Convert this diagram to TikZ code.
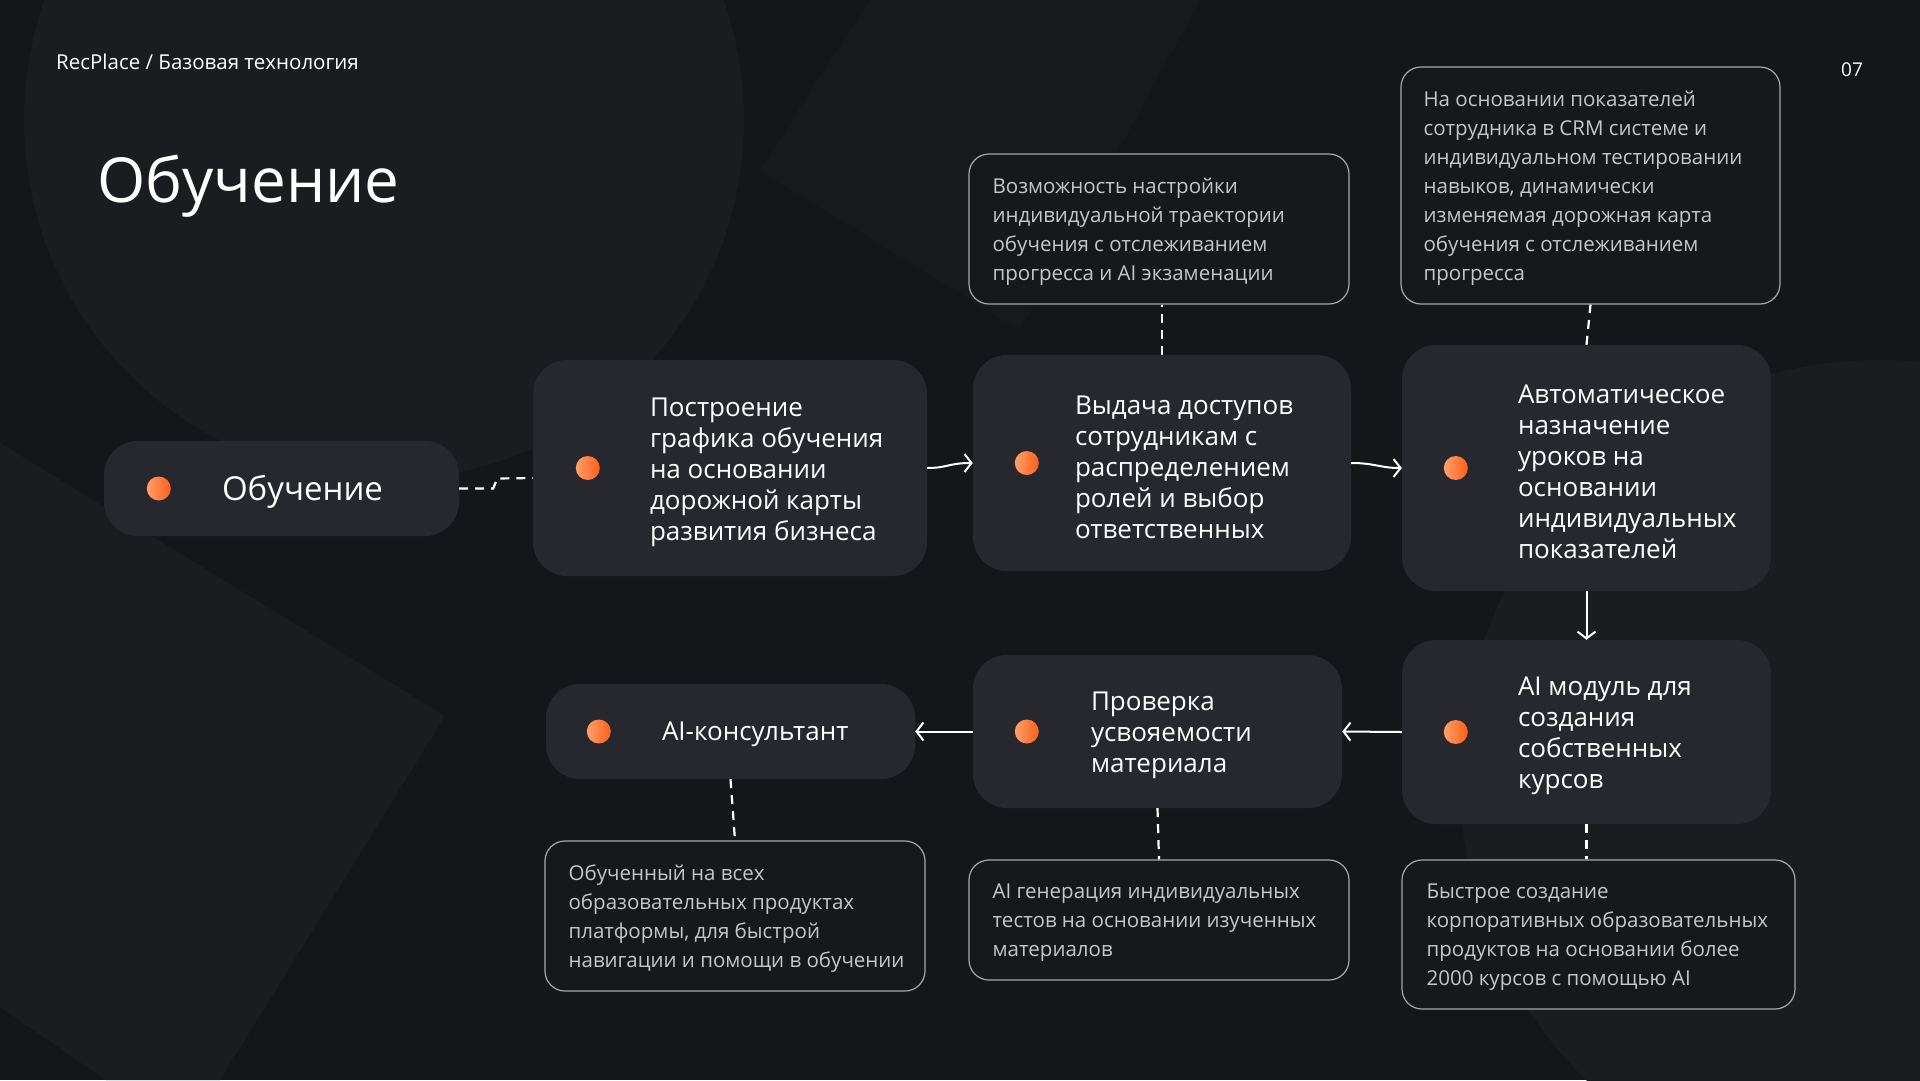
\documentclass[tikz,border=0pt]{standalone}
\usepackage{fontspec}
\setmainfont{Open Sans}
\usetikzlibrary{arrows.meta,calc}
\definecolor{bgc}{HTML}{151619}
\definecolor{bgl}{HTML}{1B1C1F}
\definecolor{boxc}{HTML}{26282D}
\definecolor{cfill}{HTML}{17181B}
\definecolor{cborder}{HTML}{A8A8A8}
\definecolor{ctext}{HTML}{C6C6C6}
\definecolor{dotl}{HTML}{FFA06A}
\definecolor{dotr}{HTML}{FF5E18}
\tikzset{
  box/.style={rectangle, rounded corners=34pt, fill=boxc, inner sep=0pt},
  callout/.style={rectangle, rounded corners=20pt, draw=cborder, line width=1.2pt, fill=cfill, inner sep=0pt},
  dot/.style={circle, minimum size=24pt, inner sep=0pt, left color=dotl, right color=dotr},
  maintext/.style={anchor=west, align=left, text=white, inner sep=0pt, font=\fontsize{26}{31}\selectfont},
  ctxt/.style={anchor=west, align=left, text=ctext, inner sep=0pt, font=\fontsize{20.5}{29}\selectfont},
  link/.style={white, line width=2.2pt, dash pattern=on 9pt off 7pt},
  arr/.style={white, line width=2pt, -{Straight Barb[length=7pt,width=18pt,line width=2pt]}}
}
\begin{document}
\begin{tikzpicture}[x=1pt,y=-1pt]
% background
\fill[bgc] (0,0) rectangle (1920,1080);
\useasboundingbox (0,0) rectangle (1920,1080);
\begin{scope}
\clip (0,0) rectangle (1920,1080);
\fill[bgl] (384,120) circle[radius=360];
\fill[bgl] (0,443) -- (445,716) -- (220,1080) -- (106,1080) -- (0,1007) -- cycle;
\fill[bgl] (1880,780) circle[radius=420];
\fill[bgl, opacity=0.6] (870,0) -- (1200,0) -- (1020,330) -- (760,170) -- cycle;
\end{scope}

% header
\node[anchor=base west, text=white, inner sep=0pt, font=\fontsize{20.5}{24}\selectfont] (hdr) at (56,69) {RecPlace / Базовая технология};
\node[anchor=base west, text=white, inner sep=0pt, font=\fontsize{19}{22}\selectfont] (pg) at (1841,76) {07};
\node[anchor=base west, text=white, inner sep=0pt, font=\fontsize{62}{70}\selectfont] (title) at (97,202) {Обучение};

% main boxes
\node[box, minimum width=355pt, minimum height=95pt] (p1) at (281.5,488.5) {};
\node[box, minimum width=394pt, minimum height=216pt] (b2) at (730,468) {};
\node[box, minimum width=378pt, minimum height=216pt] (b3) at (1162,463) {};
\node[box, minimum width=369pt, minimum height=246pt] (b4) at (1586.5,468) {};
\node[box, minimum width=369pt, minimum height=184pt] (b5) at (1586.5,732) {};
\node[box, minimum width=369pt, minimum height=153pt] (b6) at (1157.5,731.5) {};
\node[box, minimum width=369pt, minimum height=95pt] (p7) at (730.5,731.5) {};

% dots
\node[dot] (d1) at ($(p1.west)+(55,0)$) {};
\node[dot] (d2) at ($(b2.west)+(55,0)$) {};
\node[dot] (d3) at ($(b3.west)+(54,0)$) {};
\node[dot] (d4) at ($(b4.west)+(54,0)$) {};
\node[dot] (d5) at ($(b5.west)+(54,0)$) {};
\node[dot] (d6) at ($(b6.west)+(54,0)$) {};
\node[dot] (d7) at ($(p7.west)+(53,0)$) {};

% texts
\node[maintext, font=\fontsize{33}{36}\selectfont] (t1) at ($(p1.west)+(118,3)$) {Обучение};
\node[maintext] (t2) at ($(b2.west)+(117,4)$) {Построение\\графика обучения\\на основании\\дорожной карты\\развития бизнеса};
\node[maintext] (t3) at ($(b3.west)+(102,4)$) {Выдача доступов\\сотрудникам с\\распределением\\ролей и выбор\\ответственных};
\node[maintext] (t4) at ($(b4.west)+(116,4)$) {Автоматическое\\назначение\\уроков на\\основании\\индивидуальных\\показателей};
\node[maintext] (t5) at ($(b5.west)+(116,4)$) {AI модуль для\\создания\\собственных\\курсов};
\node[maintext] (t6) at ($(b6.west)+(118,4)$) {Проверка\\усвояемости\\материала};
\node[maintext] (t7) at ($(p7.west)+(116,3)$) {AI-консультант};

% callouts
\node[callout, minimum width=380pt, minimum height=150pt] (cA) at (1159,229) {};
\node[callout, minimum width=379pt, minimum height=237pt] (cB) at (1590.5,185.5) {};
\node[callout, minimum width=380pt, minimum height=150pt] (cC) at (735,916) {};
\node[callout, minimum width=380pt, minimum height=120pt] (cD) at (1159,920) {};
\node[callout, minimum width=393pt, minimum height=149pt] (cE) at (1598.5,934.5) {};

\node[ctxt] (tA) at ($(cA.west)+(24,3)$) {Возможность настройки\\индивидуальной траектории\\обучения с отслеживанием\\прогресса и AI экзаменации};
\node[ctxt] (tB) at ($(cB.west)+(23,3)$) {На основании показателей\\сотрудника в CRM системе и\\индивидуальном тестировании\\навыков, динамически\\изменяемая дорожная карта\\обучения с отслеживанием\\прогресса};
\node[ctxt] (tC) at ($(cC.west)+(24,3)$) {Обученный на всех\\образовательных продуктах\\платформы, для быстрой\\навигации и помощи в обучении};
\node[ctxt] (tD) at ($(cD.west)+(24,3)$) {AI генерация индивидуальных\\тестов на основании изученных\\материалов};
\node[ctxt] (tE) at ($(cE.west)+(25,3)$) {Быстрое создание\\корпоративных образовательных\\продуктов на основании более\\2000 курсов с помощью AI};

% connectors
\draw[link] (p1.east) -- ++(34,0) -- ++(4,-10) -- ($(b2.west)+(0,10)$);
\draw[arr] (b2.east) .. controls +(20,0) and +(-24,0) .. (b3.west);
\draw[arr] (b3.east) .. controls +(24,0) and +(-22,0) .. (b4.west);
\draw[arr] (b4.south) -- (b5.north);
\draw[arr] (b5.west) -- (b6.east);
\draw[arr] (b6.west) -- (p7.east);

\draw[link] (b3.north) -- (b3.north |- cA.south);
\draw[link] (b4.north) -- (cB.south);
\draw[link] (p7.south) -- (cC.north);
\draw[link] (b6.south) -- (cD.north);
\draw[link] (b5.south) -- (b5.south |- cE.north);
\end{tikzpicture}
\end{document}
